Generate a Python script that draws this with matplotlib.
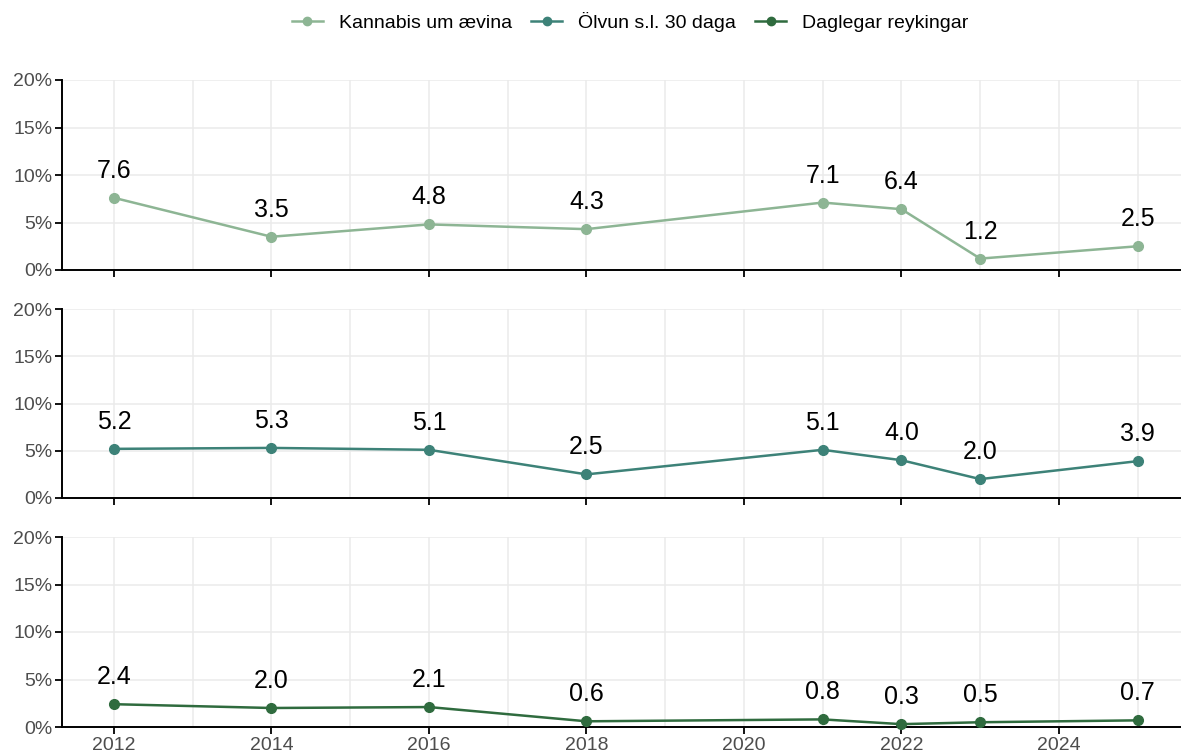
import matplotlib
matplotlib.use("Agg")
import matplotlib.pyplot as plt
from matplotlib.lines import Line2D
from matplotlib.ticker import FuncFormatter, MultipleLocator

plt.rcParams['font.family'] = ['Liberation Sans', 'DejaVu Sans']

years = [2012, 2014, 2016, 2018, 2021, 2022, 2023, 2025]
series_names = ["Kannabis um ævina", "Ölvun s.l. 30 daga", "Daglegar reykingar"]
kannabis = [7.6, 3.5, 4.8, 4.3, 7.1, 6.4, 1.2, 2.5]
olvun = [5.2, 5.3, 5.1, 2.5, 5.1, 4.0, 2.0, 3.9]
reykingar = [2.4, 2.0, 2.1, 0.6, 0.8, 0.3, 0.5, 0.7]
colors = ["#8db594", "#3d8278", "#2f6b3e"]
x_ticks = [2012, 2014, 2016, 2018, 2020, 2022, 2024]
y_ticks = [0, 5, 10, 15, 20]

W, H = 1181, 753
fig = plt.figure(figsize=(W / 100, H / 100), dpi=100)

panels = [(80, 270), (309, 498), (537, 727)]
left_px, right_px = 62, 1181
data = [kannabis, olvun, reykingar]

for i, ((top, bot), vals, col) in enumerate(zip(panels, data, colors)):
    ax = fig.add_axes([left_px / W, 1 - bot / H, (right_px - left_px) / W, (bot - top) / H])
    ax.set_xlim(2011.34, 2025.55)
    ax.set_ylim(0, 20)
    ax.set_xticks(x_ticks)
    ax.xaxis.set_minor_locator(MultipleLocator(1))
    ax.set_yticks(y_ticks)
    ax.yaxis.set_major_formatter(FuncFormatter(lambda v, p: f"{int(v)}%"))
    ax.grid(True, which='major', color='#ebebeb', linewidth=1.1)
    ax.grid(True, which='minor', axis='x', color='#ebebeb', linewidth=1.1)
    ax.set_axisbelow(True)
    for s in ['top', 'right']:
        ax.spines[s].set_visible(False)
    for s in ['left', 'bottom']:
        ax.spines[s].set_linewidth(1.4)
        ax.spines[s].set_color('black')
    ax.tick_params(axis='both', which='major', length=5, width=1.3, color='black',
                   labelsize=14, labelcolor='#4d4d4d', pad=2)
    ax.tick_params(axis='x', which='minor', length=0)
    if i < 2:
        ax.tick_params(axis='x', labelbottom=False)
    ax.plot(years, vals, color=col, linewidth=1.8, marker='o', markersize=7,
            clip_on=False, zorder=3)
    for xv, yv in zip(years, vals):
        ax.annotate(f"{yv:.1f}", (xv, yv), xytext=(0, 14.4), textcoords='offset points',
                    ha='center', va='baseline', fontsize=18, color='black')

handles = [Line2D([0], [0], color=c, marker='o', markersize=6, linewidth=1.8) for c in colors]
fig.legend(handles, series_names, loc='center', bbox_to_anchor=(630 / W, 1 - 22 / H),
           ncol=3, frameon=False, fontsize=14, handlelength=1.6, columnspacing=1.0,
           handletextpad=0.8)

fig.savefig("out.png", dpi=100)
